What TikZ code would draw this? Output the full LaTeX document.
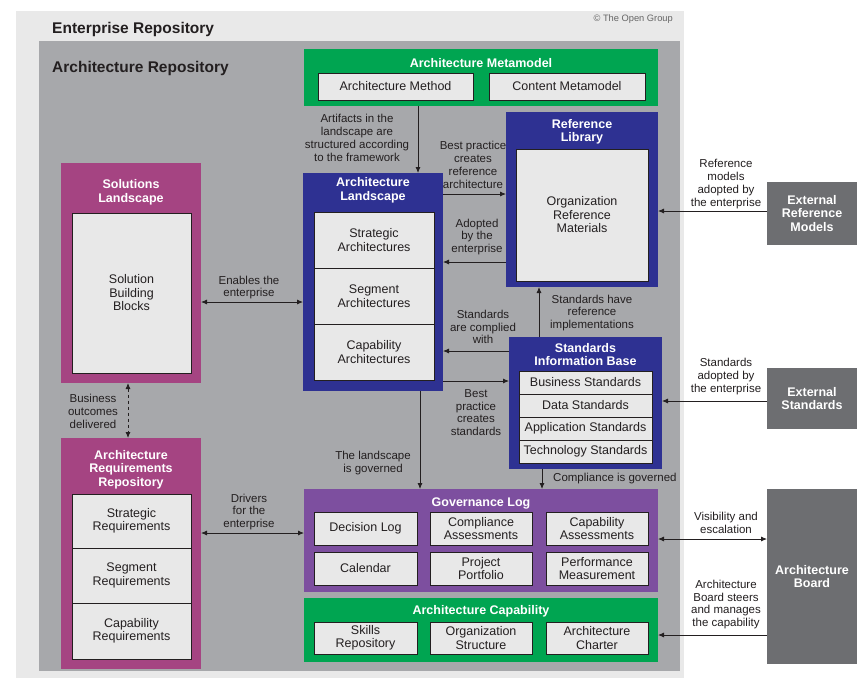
\documentclass[tikz,border=0pt]{standalone}
\usepackage{fontspec}
\setmainfont{Liberation Sans}
\usetikzlibrary{arrows.meta}
\definecolor{outerg}{HTML}{E9E9E9}
\definecolor{innerg}{HTML}{A7A8AB}
\definecolor{tgreen}{HTML}{00A551}
\definecolor{tblue}{HTML}{2E3192}
\definecolor{tmag}{HTML}{A54482}
\definecolor{tpurp}{HTML}{7D4F9F}
\definecolor{extg}{HTML}{6D6E71}
\definecolor{cellg}{HTML}{E8E8E8}
\definecolor{txt}{HTML}{231F20}
\definecolor{copyg}{HTML}{666666}
\newcommand\fBody{\fontsize{12.5}{13.5}\selectfont}
\newcommand\fLbl{\fontsize{11.5}{12.8}\selectfont}
\newcommand\fTitle{\bfseries\fontsize{12.5}{13.5}\selectfont}
\newcommand\fBig{\bfseries\fontsize{15.5}{17}\selectfont}
\newcommand\fCopy{\fontsize{9.3}{11}\selectfont}
\newcommand\rbox[6]{\node[#1,minimum width={(#5-#3)*1pt},minimum height={(#6-#4)*1pt}] (#2) at ({(#3+#5)/2},{(#4+#6)/2})}
\tikzset{
  container/.style={fill=#1, draw=none, inner sep=0pt, outer sep=0pt},
  cell/.style={fill=cellg, draw=txt, line width=0.9pt, inner sep=0pt, outer sep=0pt, align=center, font=\fBody, text=txt},
  boxtitle/.style={text=white, font=\fTitle, align=center, inner sep=0pt},
  lbl/.style={font=\fLbl, align=center, text=txt, inner sep=0pt},
  bigt/.style={font=\fBig, text=txt, inner sep=0pt},
  extbox/.style={fill=extg, text=white, font=\fTitle, align=center, inner sep=0pt, outer sep=0pt},
  conn/.style={line width=0.8pt, draw=txt, -{Latex[length=6pt,width=5pt]}},
  dconn/.style={line width=0.8pt, draw=txt, {Latex[length=6pt,width=5pt]}-{Latex[length=6pt,width=5pt]}}
}
\begin{document}
\begin{tikzpicture}[x=1pt,y=-1pt]
\path[fill=white,use as bounding box] (0,0) rectangle (865,678);
% alignment helpers
\coordinate (v418) at (418,0);
\coordinate (v420) at (420,0);
\coordinate (v539) at (539,0);
\coordinate (v542) at (542,0);
\coordinate (v128) at (128,0);
\coordinate (h194) at (0,194);
\coordinate (h262) at (0,262);
\coordinate (h351) at (0,351);
\coordinate (h381) at (0,381);
\coordinate (h302) at (0,302);
\coordinate (h533) at (0,533);
\coordinate (h211) at (0,211);
\coordinate (h401) at (0,401);
\coordinate (h539) at (0,539);
\coordinate (h635) at (0,635);
% backgrounds
\rbox{container=outerg}{ent}{16}{11}{684}{678}{};
\rbox{container=innerg}{arep}{39}{41}{680}{671}{};
\node[bigt, anchor=west] (entt) at (52,29) {Enterprise Repository};
\node[bigt, anchor=west] (arept) at (52,68) {Architecture Repository};
\node[font=\fCopy, text=copyg, inner sep=0pt, anchor=east] (copy) at (673,19) {© The Open Group};
% Architecture Metamodel
\rbox{container=tgreen}{meta}{304}{49}{658}{106}{};
\node[boxtitle] (metat) at (481,63) {Architecture Metamodel};
\rbox{cell}{amethod}{318}{73}{473}{100}{Architecture Method};
\rbox{cell}{cmeta}{489}{73}{645}{100}{Content Metamodel};
% Reference Library
\rbox{container=tblue}{rlib}{506}{112}{658}{287}{};
\node[boxtitle] (rlibt) at (582,132) {Reference\\Library};
\rbox{cell}{orm}{516}{149}{648}{281}{Organization\\Reference\\Materials};
% Architecture Landscape
\rbox{container=tblue}{aland}{303}{173}{443}{391}{};
\node[boxtitle] (alandt) at (373,190.5) {Architecture\\Landscape};
\rbox{cell}{strat}{314}{212}{434}{268}{Strategic\\Architectures};
\rbox{cell}{segm}{314}{268}{434}{324}{Segment\\Architectures};
\rbox{cell}{capa}{314}{324}{434}{380}{Capability\\Architectures};
% Standards Information Base
\rbox{container=tblue}{sib}{509}{337}{662}{469}{};
\node[boxtitle] (sibt) at (585.5,354.5) {Standards\\Information Base};
\rbox{cell}{bstd}{519}{371}{652}{394}{Business Standards};
\rbox{cell}{dstd}{519}{394}{652}{417}{Data Standards};
\rbox{cell}{astd}{519}{417}{652}{440}{Application Standards};
\rbox{cell}{tstd}{519}{440}{652}{463}{Technology Standards};
% Solutions Landscape
\rbox{container=tmag}{sol}{61}{163}{201}{383}{};
\node[boxtitle] (solt) at (131,192.5) {Solutions\\Landscape};
\rbox{cell}{sbb}{72}{213}{191}{373}{Solution\\Building\\Blocks};
% Architecture Requirements Repository
\rbox{container=tmag}{arr}{61}{438}{201}{669}{};
\node[boxtitle] (arrt) at (131,469.5) {Architecture\\Requirements\\Repository};
\rbox{cell}{sreq}{72}{494}{191}{548}{Strategic\\Requirements};
\rbox{cell}{greq}{72}{548}{191}{603}{Segment\\Requirements};
\rbox{cell}{creq}{72}{603}{191}{659}{Capability\\Requirements};
% Governance Log
\rbox{container=tpurp}{gov}{304}{489}{658}{592}{};
\node[boxtitle] (govt) at (481,503) {Governance Log};
\rbox{cell}{dlog}{314}{512}{417}{545}{Decision Log};
\rbox{cell}{cass}{430}{512}{532}{545}{Compliance\\Assessments};
\rbox{cell}{kass}{546}{512}{648}{545}{Capability\\Assessments};
\rbox{cell}{cal}{314}{552}{417}{585}{Calendar};
\rbox{cell}{ppor}{430}{552}{532}{585}{Project\\Portfolio};
\rbox{cell}{pmea}{546}{552}{648}{585}{Performance\\Measurement};
% Architecture Capability
\rbox{container=tgreen}{acap}{304}{598}{658}{662}{};
\node[boxtitle] (acapt) at (481,611) {Architecture Capability};
\rbox{cell}{skil}{314}{622}{417}{654}{Skills\\Repository};
\rbox{cell}{orgs}{430}{622}{532}{654}{Organization\\Structure};
\rbox{cell}{char}{546}{622}{648}{654}{Architecture\\Charter};
% External
\rbox{extbox}{erm}{767}{182}{857}{245}{External\\Reference\\Models};
\rbox{extbox}{exts}{767}{368}{857}{429}{External\\Standards};
\rbox{extbox}{board}{767}{489}{857}{664}{Architecture\\Board};
% connectors
\draw[conn] (meta.south -| v418) -- (aland.north -| v418);
\draw[conn] (aland.east |- h194) -- (rlib.west |- h194);
\draw[conn] (rlib.west |- h262) -- (aland.east |- h262);
\draw[conn] (sib.west |- h351) -- (aland.east |- h351);
\draw[conn] (sib.north -| v539) -- (rlib.south -| v539);
\draw[conn] (aland.east |- h381) -- (sib.west |- h381);
\draw[conn] (aland.south -| v420) -- (gov.north -| v420);
\draw[conn] (sib.south -| v542) -- (gov.north -| v542);
\draw[dconn] (sol.east |- h302) -- (aland.west |- h302);
\draw[dconn, dashed] (sol.south -| v128) -- (arr.north -| v128);
\draw[dconn] (arr.east |- h533) -- (gov.west |- h533);
\draw[conn] (erm.west |- h211) -- (rlib.east |- h211);
\draw[conn] (exts.west |- h401) -- (sib.east |- h401);
\draw[dconn] (gov.east |- h539) -- (board.west |- h539);
\draw[conn] (board.west |- h635) -- (acap.east |- h635);
% labels
\node[lbl] (l1) at (357,138) {Artifacts in the\\landscape are\\structured according\\to the framework};
\node[lbl] (l2) at (473,165) {Best practice\\creates\\reference\\architecture};
\node[lbl] (l3) at (477,237) {Adopted\\by the\\enterprise};
\node[lbl] (l4) at (592,313) {Standards have\\reference\\implementations};
\node[lbl] (l5) at (483,327) {Standards\\are complied\\with};
\node[lbl] (l6) at (476,412.5) {Best\\practice\\creates\\standards};
\node[lbl] (l7) at (373,463) {The landscape\\is governed};
\node[lbl, anchor=west] (l8) at (553,479) {Compliance is governed};
\node[lbl] (l9) at (249,287.5) {Enables the\\enterprise};
\node[lbl] (l10) at (93,411.5) {Business\\outcomes\\delivered};
\node[lbl] (l11) at (249,512) {Drivers\\for the\\enterprise};
\node[lbl] (l12) at (726,184) {Reference\\models\\adopted by\\the enterprise};
\node[lbl] (l13) at (726,376.5) {Standards\\adopted by\\the enterprise};
\node[lbl] (l14) at (726,522.5) {Visibility and\\escalation};
\node[lbl] (l15) at (726,604.5) {Architecture\\Board steers\\and manages\\the capability};
\end{tikzpicture}
\end{document}
